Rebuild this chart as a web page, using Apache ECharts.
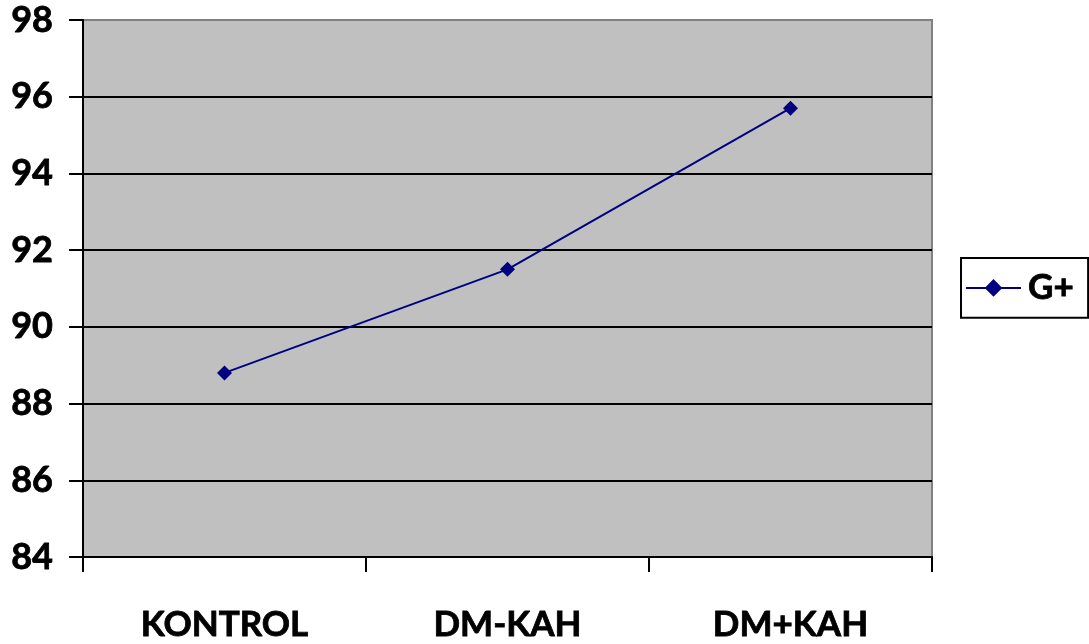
<!DOCTYPE html>
<html>
  <head>
    <meta charset="utf-8" />
    <title>G+</title>
    <script type="text/javascript" src="https://cdn.jsdelivr.net/npm/echarts@6/dist/echarts.min.js"></script>
    <style type="text/css">
      html, body { margin: 0; padding: 0; background: #fff; }
      #main { width: 1089px; height: 644px; }
    </style>
  </head>
  <body>
    <div id="main"></div>
    <script type="text/javascript">
    // values
    var categories = ['KONTROL', 'DM-KAH', 'DM+KAH'];
    var seriesName = 'G+';
    var values = [88.8, 91.5, 95.7];
    var yMin = 84, yMax = 98, yStep = 2;

    var font = 'Lato, "Open Sans", sans-serif';
    // slightly heavier text, closer to the bold face of the original
    var label = {
      fontFamily: font, fontWeight: 'bold', fontSize: 35, color: '#000',
      textBorderColor: '#000', textBorderWidth: 0.8
    };
    var myChart = echarts.init(document.getElementById('main'));

    var option = {
      animation: false,
      grid: {
        left: 83, right: 157, top: 20, bottom: 87,
        show: true,
        backgroundColor: '#C0C0C0',
        borderColor: '#808080',
        borderWidth: 2
      },
      legend: {
        data: [seriesName],
        orient: 'vertical',
        left: 961,
        top: 258,
        itemWidth: 55,
        itemHeight: 22,
        itemGap: 0,
        padding: [12, 14, 12, 4],
        borderColor: '#000',
        borderWidth: 2,
        backgroundColor: '#fff',
        textStyle: Object.assign({}, label, { padding: [0, 0, 0, 2] })
      },
      xAxis: {
        type: 'category',
        data: categories,
        boundaryGap: true,
        axisLine: { show: true, lineStyle: { color: '#000', width: 2 } },
        axisTick: { show: true, length: 15, lineStyle: { color: '#000', width: 2 } },
        axisLabel: Object.assign({ margin: 50 }, label),
        splitLine: { show: false }
      },
      yAxis: {
        type: 'value',
        min: yMin, max: yMax, interval: yStep,
        axisLine: { show: true, lineStyle: { color: '#000', width: 2 } },
        axisTick: { show: true, length: 14, lineStyle: { color: '#000', width: 2 } },
        axisLabel: Object.assign({ margin: 30 }, label, { fontSize: 36 }),
        splitLine: {
          show: true,
          lineStyle: {
            color: ['#000', '#000', '#000', '#000', '#000', '#000', '#000', '#808080'],
            width: 2
          }
        }
      },
      series: [
        {
          name: seriesName,
          type: 'line',
          data: values,
          symbol: 'diamond',
          symbolSize: 15,
          lineStyle: { color: '#000080', width: 2 },
          itemStyle: { color: '#000080' }
        }
      ]
    };
    myChart.setOption(option);
    </script>
  </body>
</html>
